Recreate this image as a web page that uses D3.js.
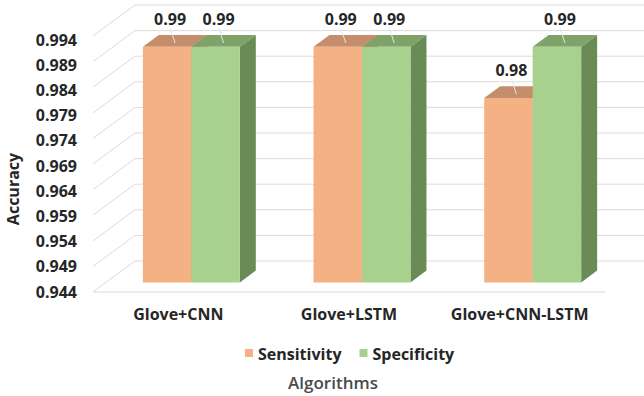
<!DOCTYPE html>
<html>
<head>
<meta charset="utf-8">
<script src="https://cdn.jsdelivr.net/npm/d3@7"></script>
<style>
  body { margin: 0; background: #fff; }
  text { font-family: "Open Sans", "Liberation Sans", sans-serif; }
</style>
</head>
<body>
<script>
// data
var categories = ["Glove+CNN", "Glove+LSTM", "Glove+CNN-LSTM"];
var seriesNames = ["Sensitivity", "Specificity"];
var sensitivity = [0.99, 0.99, 0.98];
var specificity = [0.99, 0.99, 0.99];
var tickValues = [0.944, 0.949, 0.954, 0.959, 0.964, 0.969, 0.974, 0.979, 0.984, 0.989, 0.994];

var w = 644, h = 396;
var frontColor = ["#F4B183", "#A9D18E"];
var topColor = ["#C48D6B", "#7FA268"];
var sideColor = ["#B07550", "#6A8A56"];

var svg = d3.select("body").append("svg")
  .attr("width", w)
  .attr("height", h);

svg.append("rect").attr("width", w).attr("height", h).attr("fill", "#fff");

// oblique depth: z=0 front of the floor, z=1 back wall
var DX = 42, DY = -31;
var z0 = 0.31, z1 = 0.69;

var y = d3.scaleLinear().domain([0.944, 0.994]).range([292, 36]);
var yLab = d3.scaleLinear().domain([0.944, 0.994]).range([292, 40]);
var x = d3.scaleBand().domain(categories).range([93, 605]).padding(0);
var xs = d3.scaleBand().domain(seriesNames).range([0, x.bandwidth()])
  .paddingInner(0).paddingOuter(0.76);

function proj(px, v, z) {
  return [px + z * DX, y(v) + z * DY];
}

// grid: back wall lines and floor diagonals
var grid = svg.append("g").attr("stroke", "#DCDCDC").attr("stroke-width", 1).attr("fill", "none");
var xl = x.range()[0], xr = x.range()[1];
tickValues.forEach(function(v) {
  var a = proj(xl, v, 1), b = proj(xr, v, 1);
  grid.append("line").attr("x1", a[0]).attr("y1", a[1]).attr("x2", b[0]).attr("y2", b[1]);
  var c = proj(xl, v, 0);
  grid.append("line").attr("x1", c[0]).attr("y1", c[1]).attr("x2", a[0]).attr("y2", a[1]);
});
var base = y.domain()[0];
var f0 = proj(xl, base, 0), f1 = proj(xr, base, 0);
grid.append("line").attr("x1", f0[0]).attr("y1", f0[1]).attr("x2", f1[0]).attr("y2", f1[1]);

// bars
var rows = [];
categories.forEach(function(c, i) {
  rows.push({cat: c, s: 0, v: sensitivity[i]});
  rows.push({cat: c, s: 1, v: specificity[i]});
});

function poly(pts) {
  return "M" + pts.map(function(p) { return p.join(","); }).join("L") + "Z";
}

var bars = svg.selectAll("g.bar")
  .data(rows)
  .enter()
  .append("g")
  .attr("class", "bar");

bars.each(function(d) {
  var g = d3.select(this);
  var x0 = x(d.cat) + xs(seriesNames[d.s]);
  var x1 = x0 + xs.bandwidth();
  g.append("path").attr("fill", sideColor[d.s])
    .attr("d", poly([proj(x1, d.v, z0), proj(x1, d.v, z1), proj(x1, base, z1), proj(x1, base, z0)]));
  g.append("path").attr("fill", topColor[d.s])
    .attr("d", poly([proj(x0, d.v, z0), proj(x1, d.v, z0), proj(x1, d.v, z1), proj(x0, d.v, z1)]));
  g.append("path").attr("fill", frontColor[d.s])
    .attr("d", poly([proj(x0, d.v, z0), proj(x1, d.v, z0), proj(x1, base, z0), proj(x0, base, z0)]));
});

// data labels with leader lines
bars.each(function(d) {
  var g = d3.select(this);
  var x0 = x(d.cat) + xs(seriesNames[d.s]);
  var cx = x0 + xs.bandwidth() / 2;
  var topC = proj(cx, d.v, (z0 + z1) / 2);
  var lx = topC[0] - 5, ly = topC[1] - 16;
  g.append("line")
    .attr("x1", lx).attr("y1", ly + 3)
    .attr("x2", topC[0]).attr("y2", topC[1] + 2)
    .attr("stroke", "#E6E6E6").attr("stroke-width", 1);
  g.append("text")
    .attr("x", lx).attr("y", ly)
    .attr("text-anchor", "middle")
    .attr("font-size", 16).attr("font-weight", 700)
    .attr("fill", "#262626")
    .text(d3.format(".2f")(d.v));
});

// value axis labels
var yAxis = svg.append("g")
  .attr("transform", "translate(80,0)")
  .call(d3.axisLeft(yLab).tickValues(tickValues).tickSize(0).tickPadding(3).tickFormat(d3.format(".3f")));
yAxis.select(".domain").remove();
yAxis.selectAll("text")
  .attr("font-size", 16).attr("font-weight", 700).attr("fill", "#262626")
  .style("font-family", "'Open Sans', sans-serif");

// category labels
var xAxis = svg.append("g")
  .attr("transform", "translate(0,295)")
  .call(d3.axisBottom(x).tickSize(0).tickPadding(14));
xAxis.select(".domain").remove();
xAxis.selectAll("text")
  .attr("font-size", 16).attr("font-weight", 700).attr("fill", "#262626")
  .style("font-family", "'Open Sans', sans-serif");

// axis titles
svg.append("text")
  .attr("transform", "translate(13,189) rotate(-90)")
  .attr("text-anchor", "middle")
  .attr("dominant-baseline", "central")
  .attr("font-size", 16).attr("font-weight", 700).attr("fill", "#262626")
  .text("Accuracy");

svg.append("text")
  .attr("x", 333).attr("y", 389)
  .attr("text-anchor", "middle")
  .attr("font-size", 17).attr("font-weight", 600).attr("fill", "#4A4A4A")
  .text("Algorithms");

// legend
var legend = svg.append("g").attr("transform", "translate(245,349)");
var lx = 0;
seriesNames.forEach(function(name, i) {
  var item = legend.append("g").attr("transform", "translate(" + lx + ",0)");
  item.append("rect").attr("width", 8).attr("height", 8).attr("fill", frontColor[i]);
  var t = item.append("text")
    .attr("x", 13).attr("y", 11)
    .attr("font-size", 16).attr("font-weight", 700).attr("fill", "#262626")
    .text(name);
  lx += 13 + t.node().getComputedTextLength() + 18;
});
</script>
</body>
</html>
